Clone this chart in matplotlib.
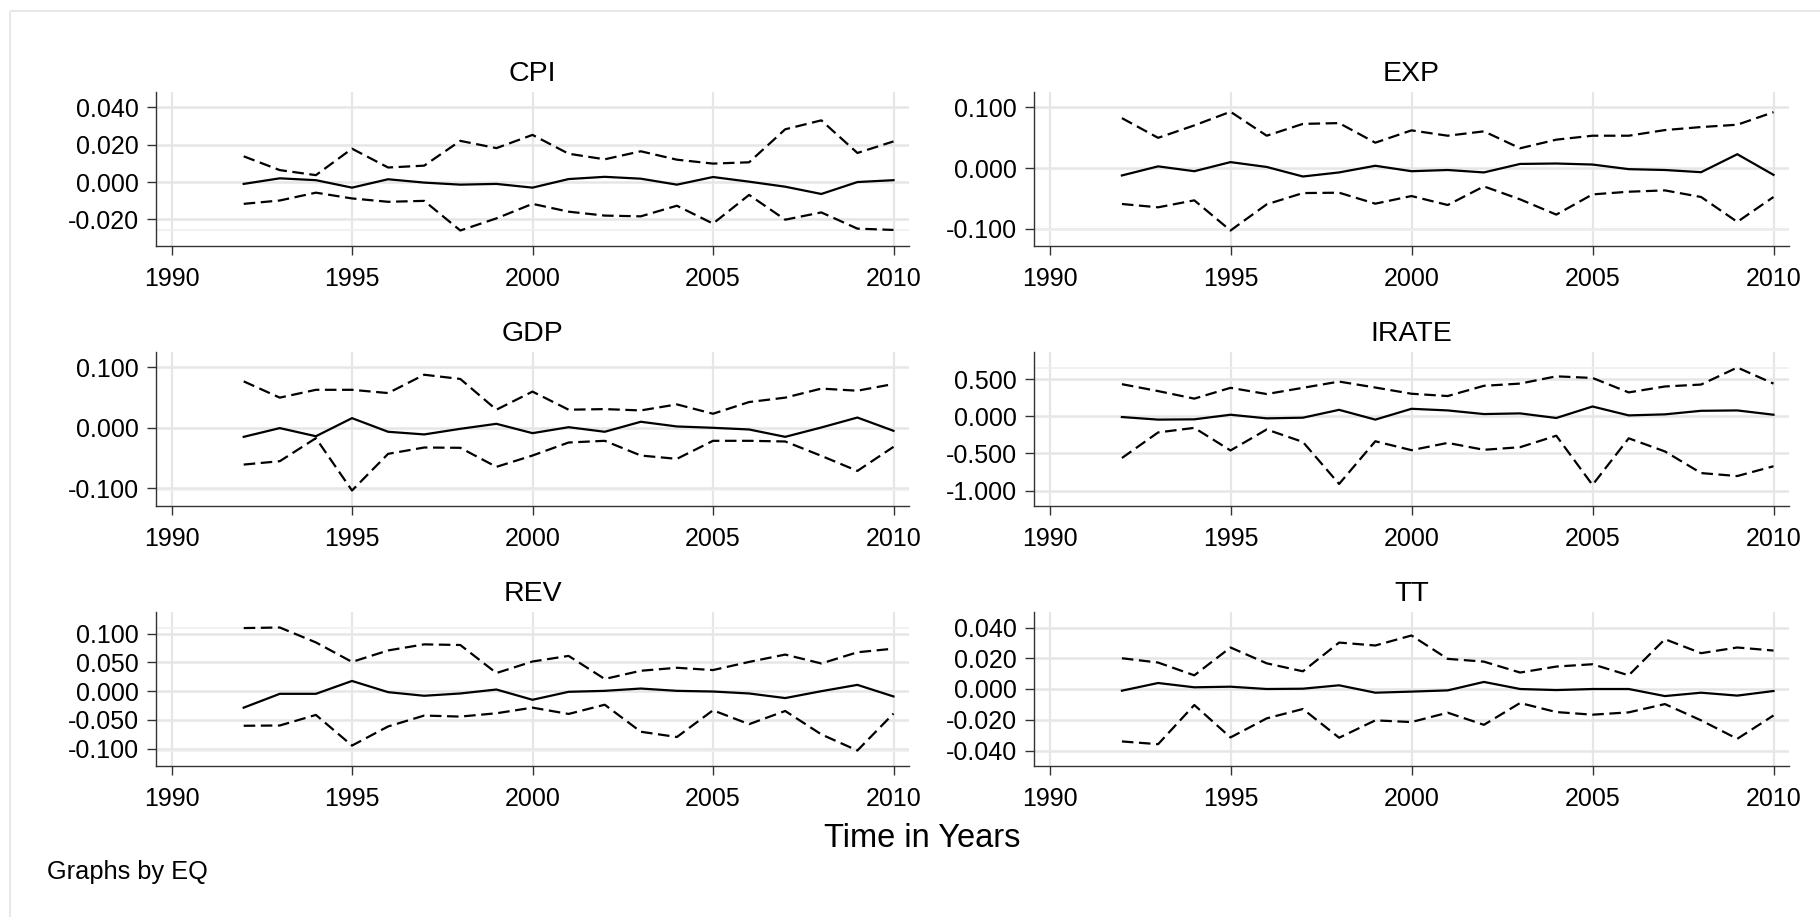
import matplotlib
matplotlib.use("Agg")
import matplotlib.pyplot as plt
from matplotlib.patches import Rectangle

plt.rcParams['font.family'] = ['Liberation Sans', 'DejaVu Sans']

years = list(range(1992, 2011))
x_ticks = [1990, 1995, 2000, 2005, 2010]

# Point estimates with upper and lower confidence bounds for each equation
cpi_est = [-0.0010, 0.0020, 0.0010, -0.0030, 0.0015, -0.0003, -0.0014, -0.0010, -0.0030, 0.0016,
           0.0028, 0.0018, -0.0014, 0.0027, 0.0002, -0.0025, -0.0064, 0.0000, 0.0010]
cpi_upper = [0.0138, 0.0064, 0.0037, 0.0179, 0.0078, 0.0088, 0.0221, 0.0182, 0.0253, 0.0152,
             0.0122, 0.0165, 0.0120, 0.0099, 0.0106, 0.0283, 0.0331, 0.0156, 0.0218]
cpi_lower = [-0.0117, -0.0099, -0.0057, -0.0088, -0.0106, -0.0101, -0.0260, -0.0195, -0.0117, -0.0159,
             -0.0180, -0.0184, -0.0127, -0.0223, -0.0069, -0.0202, -0.0163, -0.0250, -0.0257]
cpi_ticks = [-0.02, 0.0, 0.02, 0.04]

exp_est = [-0.012, 0.003, -0.005, 0.010, 0.002, -0.0137, -0.007, 0.004, -0.005, -0.003,
           -0.007, 0.007, 0.0077, 0.006, -0.0016, -0.003, -0.0066, 0.023, -0.011]
exp_upper = [0.0825, 0.050, 0.0705, 0.093, 0.0535, 0.073, 0.0743, 0.042, 0.0623, 0.0535,
             0.0607, 0.0328, 0.047, 0.0535, 0.0535, 0.0628, 0.0678, 0.0716, 0.0923]
exp_lower = [-0.059, -0.0645, -0.053, -0.1027, -0.0596, -0.041, -0.0404, -0.0585, -0.0459, -0.0607,
             -0.030, -0.0514, -0.0765, -0.0432, -0.0388, -0.0366, -0.0475, -0.0885, -0.0475]
exp_ticks = [-0.1, 0.0, 0.1]

gdp_est = [-0.015, -0.0005, -0.014, 0.016, -0.0066, -0.011, -0.0017, 0.0066, -0.0089, 0.001,
           -0.0066, 0.010, 0.0022, 0.0, -0.0028, -0.015, 0.0005, 0.017, -0.005]
gdp_upper = [0.077, 0.050, 0.063, 0.063, 0.0576, 0.088, 0.081, 0.030, 0.060, 0.030,
             0.031, 0.0288, 0.0388, 0.0233, 0.0427, 0.050, 0.065, 0.0615, 0.0726]
gdp_lower = [-0.061, -0.0554, -0.0172, -0.104, -0.0432, -0.0327, -0.0332, -0.0648, -0.046, -0.0244,
             -0.0216, -0.046, -0.0515, -0.0216, -0.0216, -0.0227, -0.0465, -0.0715, -0.0316]
gdp_ticks = [-0.1, 0.0, 0.1]

irate_est = [-0.009, -0.044, -0.040, 0.022, -0.027, -0.018, 0.088, -0.044, 0.102, 0.080,
             0.031, 0.040, -0.022, 0.133, 0.013, 0.027, 0.075, 0.080, 0.022]
irate_upper = [0.434, 0.341, 0.239, 0.385, 0.301, 0.385, 0.469, 0.389, 0.305, 0.274,
               0.412, 0.442, 0.540, 0.518, 0.323, 0.403, 0.429, 0.659, 0.442]
irate_lower = [-0.562, -0.217, -0.155, -0.460, -0.177, -0.345, -0.912, -0.336, -0.456, -0.358,
               -0.451, -0.416, -0.261, -0.925, -0.296, -0.473, -0.765, -0.805, -0.673]
irate_ticks = [-1.0, -0.5, 0.0, 0.5]

rev_est = [-0.0287, -0.0046, -0.0046, 0.0178, -0.0017, -0.008, -0.004, 0.0029, -0.015, -0.0011,
           0.0006, 0.0046, 0.0006, -0.0006, -0.004, -0.012, 0.0, 0.011, -0.0092]
rev_upper = [0.110, 0.111, 0.085, 0.051, 0.071, 0.0816, 0.0805, 0.0316, 0.0517, 0.0615,
             0.0213, 0.0356, 0.0408, 0.0368, 0.051, 0.0638, 0.0483, 0.0678, 0.0741]
rev_lower = [-0.0603, -0.0598, -0.0414, -0.0948, -0.0615, -0.0425, -0.0443, -0.0385, -0.0287, -0.0397,
             -0.0236, -0.0707, -0.0799, -0.0333, -0.0575, -0.0345, -0.0753, -0.1034, -0.039]
rev_ticks = [-0.1, -0.05, 0.0, 0.05, 0.1]

tt_est = [-0.0011, 0.0039, 0.0011, 0.0015, 0.0, 0.0002, 0.0024, -0.0024, -0.0017, -0.0009,
          0.0046, 0.0, -0.0007, 0.0, 0.0, -0.0046, -0.0024, -0.0043, -0.0013]
tt_upper = [0.020, 0.0172, 0.0089, 0.027, 0.0167, 0.0115, 0.0302, 0.0283, 0.0348, 0.0196,
            0.0178, 0.0107, 0.0146, 0.0161, 0.0089, 0.0324, 0.0233, 0.027, 0.025]
tt_lower = [-0.0341, -0.0359, -0.0104, -0.0315, -0.0191, -0.013, -0.0317, -0.0204, -0.0215, -0.0154,
            -0.0233, -0.0091, -0.015, -0.0167, -0.0152, -0.0098, -0.0204, -0.0324, -0.0172]
tt_ticks = [-0.04, -0.02, 0.0, 0.02, 0.04]

panels = [
    ("CPI", cpi_est, cpi_upper, cpi_lower, cpi_ticks),
    ("EXP", exp_est, exp_upper, exp_lower, exp_ticks),
    ("GDP", gdp_est, gdp_upper, gdp_lower, gdp_ticks),
    ("IRATE", irate_est, irate_upper, irate_lower, irate_ticks),
    ("REV", rev_est, rev_upper, rev_lower, rev_ticks),
    ("TT", tt_est, tt_upper, tt_lower, tt_ticks),
]

W, H = 1820, 917
fig = plt.figure(figsize=(W / 100, H / 100), dpi=100)
fig.patch.set_facecolor("white")

# light frame around the graph region
fig.patches.append(Rectangle((10 / W, 1 - 11 / H), 2.0, -2.0, transform=fig.transFigure,
                             fill=False, edgecolor="#e8e8e8", linewidth=1.5))

col_left = [156, 1034]
col_width = [753, 755]
row_top = [92, 352, 612]
ax_h = 154
margin_px = 15.5

grid_col = "#e6e6e6"
spine_col = "#333333"

for i, (name, est, upper, lower, ticks) in enumerate(panels):
    r, c = divmod(i, 2)
    left, width, top = col_left[c], col_width[c], row_top[r]
    ax = fig.add_axes([left / W, 1 - (top + ax_h) / H, width / W, ax_h / H])

    # scale: cover ticks and data, plus a fixed pixel margin
    xpad = margin_px / (width - 2 * margin_px) * (x_ticks[-1] - x_ticks[0])
    ax.set_xlim(x_ticks[0] - xpad, x_ticks[-1] + xpad)
    dmin = min(min(lower), min(est))
    dmax = max(max(upper), max(est))
    lo, hi = min(ticks[0], dmin), max(ticks[-1], dmax)
    ypad = margin_px / (ax_h - 2 * margin_px) * (hi - lo)
    ax.set_ylim(lo - ypad, hi + ypad)

    for t in ticks:
        ax.axhline(t, color=grid_col, lw=1.8, zorder=0)
    for t in x_ticks:
        ax.axvline(t, color=grid_col, lw=1.6, zorder=0)
    if dmax > ticks[-1]:
        ax.axhline(dmax, color="#efefef", lw=1.2, zorder=0)
    if dmin < ticks[0]:
        ax.axhline(dmin, color="#efefef", lw=1.2, zorder=0)

    ax.plot(years, est, color="black", lw=1.6, solid_joinstyle="miter", zorder=3)
    ax.plot(years, upper, color="black", lw=1.6, linestyle=(0, (5.2, 2.5)), zorder=3)
    ax.plot(years, lower, color="black", lw=1.6, linestyle=(0, (5.2, 2.5)), zorder=3)

    ax.set_yticks(ticks)
    ax.set_yticklabels([f"{t:.3f}" for t in ticks])
    ax.set_xticks(x_ticks)
    ax.set_xticklabels([str(t) for t in x_ticks])
    ax.tick_params(axis="both", direction="out", length=6.5, width=1.0, color=spine_col,
                   labelsize=18, labelcolor="black")
    ax.tick_params(axis="y", pad=6)
    ax.tick_params(axis="x", pad=8.5)

    for s in ("top", "right"):
        ax.spines[s].set_visible(False)
    for s in ("left", "bottom"):
        ax.spines[s].set_color(spine_col)
        ax.spines[s].set_linewidth(1.0)
    ax.set_facecolor("white")
    ax.set_title(name, fontsize=20.5, pad=8)

fig.text(922 / W, 1 - 847 / H, "Time in Years", fontsize=23.5, ha="center", va="baseline")
fig.text(47 / W, 1 - 879 / H, "Graphs by EQ", fontsize=18.3, ha="left", va="baseline")

fig.savefig("out.png", dpi=100, facecolor="white")
